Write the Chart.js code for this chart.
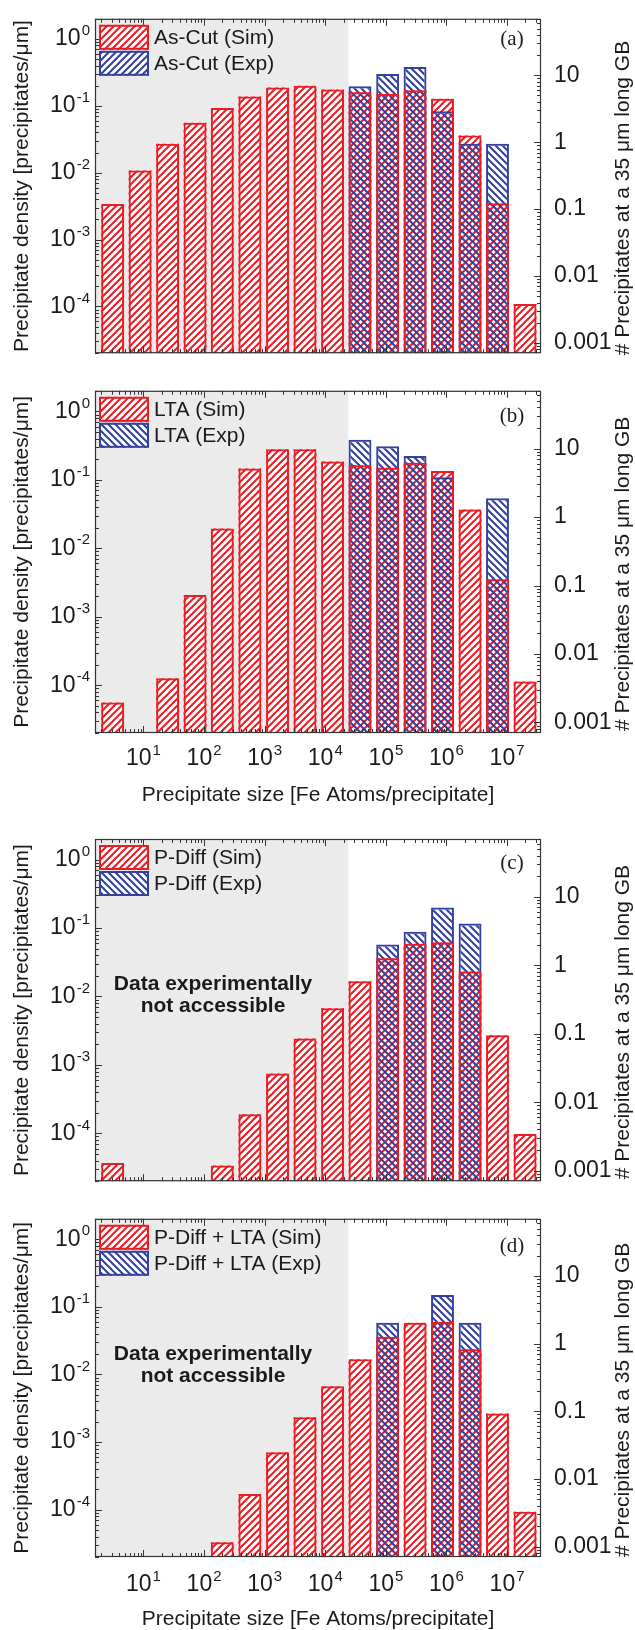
<!DOCTYPE html>
<html>
<head>
<meta charset="utf-8">
<script src="https://cdn.jsdelivr.net/npm/chart.js@4.4.1/dist/chart.umd.min.js"></script>
<style>
  body { margin: 0; background: #fff; width: 635px; height: 1630px; position: relative; overflow: hidden; }
  canvas { position: absolute; left: 0; }
</style>
</head>
<body>
<canvas id="panelA" width="635" height="372" style="top:0px"></canvas>
<canvas id="panelB" width="635" height="440" style="top:372px"></canvas>
<canvas id="panelC" width="635" height="380" style="top:820px"></canvas>
<canvas id="panelD" width="635" height="430" style="top:1200px"></canvas>
<script>
// bin centres [Fe atoms / precipitate]
var binSizes = [3.1, 8.8, 25, 71, 200, 570, 1630, 4630, 13200, 37400, 107000, 303000, 860000, 2450000, 6950000, 19800000];

var asCutSim = [3.4e-3, 1.08e-2, 2.7e-2, 5.6e-2, 9.3e-2, 0.138, 0.188, 0.2, 0.175, 0.159, 0.150, 0.171, 0.128, 0.036, 3.5e-3, 1.09e-4];
var asCutExp = [null, null, null, null, null, null, null, null, null, 0.196, 0.30, 0.38, 0.083, 0.027, 0.027, null];

var ltaSim = [5.6e-5, null, 1.26e-4, 2.07e-3, 1.95e-2, 0.147, 0.279, 0.279, 0.186, 0.163, 0.150, 0.177, 0.135, 0.037, 3.54e-3, 1.13e-4];
var ltaExp = [null, null, null, null, null, null, null, null, null, 0.385, 0.31, 0.223, 0.109, null, 0.054, null];

var pDiffSim = [3.7e-5, null, null, null, 3.4e-5, 1.9e-4, 7.5e-4, 2.44e-3, 6.75e-3, 1.67e-2, 3.62e-2, 5.9e-2, 6.2e-2, 2.31e-2, 2.71e-3, 9.8e-5];
var pDiffExp = [null, null, null, null, null, null, null, null, null, null, 0.0574, 0.088, 0.2, 0.117, null, null];

var pDiffLtaSim = [null, null, null, null, 3.3e-5, 1.71e-4, 7.1e-4, 2.33e-3, 6.7e-3, 1.68e-2, 3.6e-2, 5.8e-2, 5.97e-2, 2.35e-2, 2.64e-3, 9.3e-5];
var pDiffLtaExp = [null, null, null, null, null, null, null, null, null, null, 0.058, null, 0.15, 0.058, null, null];

var xDecades = [1, 2, 3, 4, 5, 6, 7];
var yDecades = [-4, -3, -2, -1, 0];

var GREY_LIMIT = 2.4e4;   // below this size data is not accessible experimentally
var GB_LENGTH = 35;       // um, right axis = density * 35
var X_MIN = 1.585, X_MAX = 3.63e7;
var Y_MIN = 2e-5, Y_MAX = 2.0;

var RED = '#ec1c24', BLUE = '#3340a0', INK = '#1a1a1a', AXIS = '#333';
var SANS = '"Liberation Sans", Arial, sans-serif';

function hatch(color, up, bg) {
  var t = 7, c = document.createElement('canvas');
  c.width = c.height = t;
  var g = c.getContext('2d');
  if (bg) { g.fillStyle = bg; g.fillRect(0, 0, t, t); }
  g.strokeStyle = color; g.lineWidth = 2;
  g.beginPath();
  if (up) {
    g.moveTo(-1, t + 1); g.lineTo(t + 1, -1);
    g.moveTo(-1, 1); g.lineTo(1, -1);
    g.moveTo(t - 1, t + 1); g.lineTo(t + 1, t - 1);
  } else {
    g.moveTo(-1, -1); g.lineTo(t + 1, t + 1);
    g.moveTo(t - 1, -1); g.lineTo(t + 1, 1);
    g.moveTo(-1, t - 1); g.lineTo(1, t + 1);
  }
  g.stroke();
  return g.createPattern(c, 'repeat');
}

var simFill = hatch(RED, true, '#fff');
var expFill = hatch(BLUE, false, null);
var expFillUp = hatch(BLUE, true, null);

function pts(vals) {
  return binSizes.map(function (s, i) { return { x: s, y: vals[i] }; });
}

function decade(v) {
  var l = Math.log10(v), e = Math.round(l);
  if (Math.abs(l - e) > 1e-6) return '';
  return e < 0 ? Math.pow(10, e).toFixed(-e) : String(Math.pow(10, e));
}

function drawPow(ctx, exp, x, y, align) {
  ctx.font = '23px ' + SANS;
  var wb = ctx.measureText('10').width;
  ctx.font = '15px ' + SANS;
  var ws = ctx.measureText(String(exp)).width;
  var x0 = align === 'right' ? x - wb - ws - 1 : x - (wb + ws + 1) / 2;
  ctx.textAlign = 'left'; ctx.textBaseline = 'middle';
  ctx.font = '23px ' + SANS;
  ctx.fillText('10', x0, y);
  ctx.font = '15px ' + SANS;
  ctx.fillText(String(exp), x0 + wb + 1, y - 8);
}

var decor = {
  id: 'decor',
  beforeDatasetsDraw: function (chart) {
    var a = chart.chartArea, ctx = chart.ctx;
    var xg = chart.scales.x.getPixelForValue(GREY_LIMIT);
    ctx.save();
    ctx.fillStyle = '#ebebeb';
    ctx.fillRect(a.left, a.top, xg - a.left, a.bottom - a.top);
    ctx.restore();
  },
  afterDraw: function (chart) {
    var cfg = chart.options.plugins.decor;
    var a = chart.chartArea, ctx = chart.ctx;
    var sx = chart.scales.x, sy = chart.scales.y, sy2 = chart.scales.y2;
    ctx.save();
    // inward ticks
    ctx.strokeStyle = AXIS; ctx.lineWidth = 1;
    ctx.beginPath();
    function ticks(scale, lo, hi, fn) {
      for (var n = Math.floor(Math.log10(lo)); n <= Math.ceil(Math.log10(hi)); n++) {
        for (var k = 1; k < 10; k++) {
          var v = k * Math.pow(10, n);
          if (v < lo || v > hi) continue;
          fn(Math.round(scale.getPixelForValue(v)) + 0.5, k === 1 ? 7 : 4);
        }
      }
    }
    ticks(sx, X_MIN, X_MAX, function (p, l) {
      ctx.moveTo(p, a.bottom); ctx.lineTo(p, a.bottom - l);
      ctx.moveTo(p, a.top); ctx.lineTo(p, a.top + l);
    });
    ticks(sy, Y_MIN, Y_MAX, function (p, l) {
      ctx.moveTo(a.left, p); ctx.lineTo(a.left + l, p);
    });
    ticks(sy2, Y_MIN * GB_LENGTH, Y_MAX * GB_LENGTH, function (p, l) {
      ctx.moveTo(a.right, p); ctx.lineTo(a.right - l, p);
    });
    ctx.stroke();
    ctx.lineWidth = 1.2;
    ctx.strokeRect(a.left + 0.5, a.top + 0.5, a.right - a.left - 1, a.bottom - a.top - 1);

    // tick labels with superscripts
    ctx.fillStyle = INK;
    yDecades.forEach(function (e) {
      drawPow(ctx, e, 90, sy.getPixelForValue(Math.pow(10, e)), 'right');
    });
    if (cfg.xLabelDy) {
      xDecades.forEach(function (e) {
        drawPow(ctx, e, sx.getPixelForValue(Math.pow(10, e)), a.bottom + cfg.xLabelDy, 'center');
      });
    }

    // right axis title
    ctx.save();
    ctx.translate(623, (a.top + a.bottom) / 2 + 12);
    ctx.rotate(-Math.PI / 2);
    ctx.font = '21px ' + SANS;
    ctx.textAlign = 'center'; ctx.textBaseline = 'middle';
    ctx.fillText('# Precipitates at a 35 \u03bcm long GB', 0, 0);
    ctx.restore();

    // legend
    var lx = a.left + 4, ly = a.top + 6;
    var boxes = [[simFill, RED, cfg.names[0]], [cfg.expUp ? expFillUp : expFill, BLUE, cfg.names[1]]];
    boxes.forEach(function (b, i) {
      var y = ly + i * 26;
      ctx.fillStyle = '#fff'; ctx.fillRect(lx, y, 50, 25);
      ctx.fillStyle = b[0]; ctx.fillRect(lx, y, 50, 25);
      ctx.strokeStyle = b[1]; ctx.lineWidth = 2;
      ctx.strokeRect(lx + 1, y + 1, 48, 23);
      ctx.fillStyle = INK; ctx.font = '21px ' + SANS;
      ctx.textAlign = 'left'; ctx.textBaseline = 'middle';
      ctx.fillText(b[2], lx + 55, y + 13);
    });

    // panel letter
    ctx.font = '21px "Liberation Serif", "Times New Roman", serif';
    ctx.textAlign = 'center'; ctx.textBaseline = 'middle';
    ctx.fillText(cfg.letter, 512, a.top + cfg.letterDy);

    if (cfg.noteDy) {
      ctx.font = 'bold 21px ' + SANS;
      ctx.fillText('Data experimentally', 213, a.top + cfg.noteDy);
      ctx.fillText('not accessible', 213, a.top + cfg.noteDy + 22);
    }
    ctx.restore();
  }
};

function panel(id, sim, exp, cfg) {
  var xTitle = {
    display: !!cfg.xLabelDy,
    text: 'Precipitate size [Fe Atoms/precipitate]',
    color: INK,
    font: { family: SANS, size: 21, lineHeight: 1 },
    padding: { top: 0, bottom: cfg.xTitlePad || 0 }
  };
  return new Chart(document.getElementById(id), {
    type: 'bar',
    data: {
      datasets: [
        { label: cfg.names[0], data: pts(sim), backgroundColor: simFill, borderWidth: 0, order: 3 },
        { label: cfg.names[1], data: pts(exp), backgroundColor: expFill, borderColor: BLUE, borderWidth: 2, order: 2 },
        { label: cfg.names[0], data: pts(sim), backgroundColor: 'rgba(0,0,0,0)', borderColor: RED, borderWidth: 2, order: 1 }
      ]
    },
    options: {
      responsive: false,
      animation: false,
      layout: { padding: { top: cfg.padTop, left: 0, right: 0, bottom: 0 } },
      datasets: { bar: { grouped: false, barPercentage: 0.84, categoryPercentage: 1 } },
      plugins: {
        legend: { display: false },
        tooltip: { enabled: false },
        decor: cfg
      },
      scales: {
        x: {
          type: 'logarithmic', min: X_MIN, max: X_MAX, offset: false,
          grid: { display: false }, border: { display: false },
          ticks: { display: false },
          title: xTitle,
          // ticks are drawn by the decor plugin; keep them out of the bar-width ruler
          afterBuildTicks: function (s) { s.ticks = []; },
          afterFit: function (s) { s.height = cfg.xH; }
        },
        y: {
          type: 'logarithmic', position: 'left', min: Y_MIN, max: Y_MAX,
          grid: { display: false }, border: { display: false },
          ticks: { display: false },
          title: {
            display: true, text: 'Precipitate density [precipitates/\u03bcm]', color: INK,
            font: { family: SANS, size: 21, lineHeight: 1 }, padding: { top: 12, bottom: 0 }
          },
          afterFit: function (s) { s.width = 95; }
        },
        y2: {
          type: 'logarithmic', position: 'right', min: Y_MIN * GB_LENGTH, max: Y_MAX * GB_LENGTH,
          grid: { display: false }, border: { display: false },
          ticks: {
            autoSkip: false, padding: 5, color: INK,
            font: { family: SANS, size: 23 },
            callback: function (v) { return decade(v); }
          },
          afterFit: function (s) { s.width = 94; }
        }
      }
    },
    plugins: [decor]
  });
}

panel('panelA', asCutSim, asCutExp, { names: ['As-Cut (Sim)', 'As-Cut (Exp)'], expUp: true, letter: '(a)', letterDy: 21, padTop: 12, xH: 4 });
panel('panelB', ltaSim, ltaExp, { names: ['LTA (Sim)', 'LTA (Exp)'], letter: '(b)', letterDy: 26, padTop: 1, xH: 79, xLabelDy: 26, xTitlePad: 6.5 });
panel('panelC', pDiffSim, pDiffExp, { names: ['P-Diff (Sim)', 'P-Diff (Exp)'], letter: '(c)', letterDy: 24, padTop: 19, xH: 3, noteDy: 145 });
panel('panelD', pDiffLtaSim, pDiffLtaExp, { names: ['P-Diff + LTA (Sim)', 'P-Diff + LTA (Exp)'], letter: '(d)', letterDy: 28, padTop: 1, xH: 73, xLabelDy: 28, xTitlePad: 0, noteDy: 135 });
</script>
</body>
</html>
